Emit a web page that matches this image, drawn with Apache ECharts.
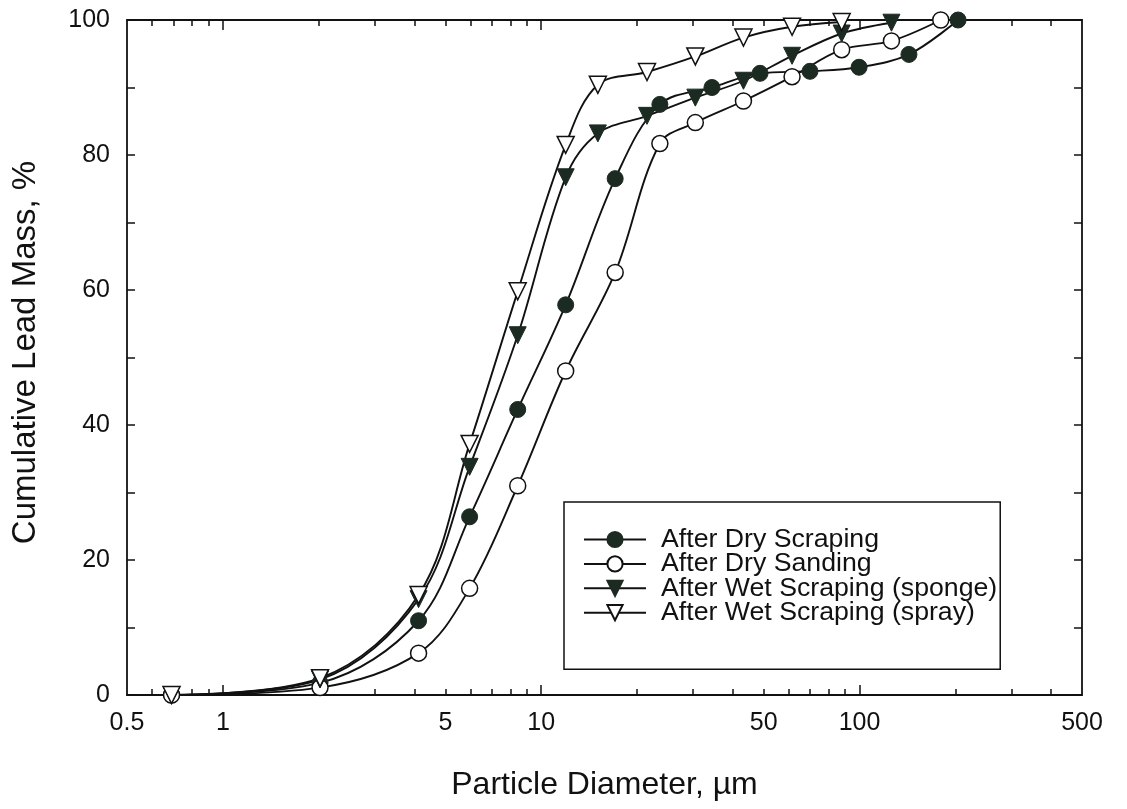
<!DOCTYPE html>
<html><head><meta charset="utf-8">
<script src="https://cdn.jsdelivr.net/npm/echarts@6/dist/echarts.min.js"></script>
<style>html,body{margin:0;padding:0;background:#fff}#c{width:1127px;height:809px}</style>
</head><body><div id="c"></div>
<script>
// ---- data (particle diameter in µm, cumulative lead mass in %) ----
const seriesNames = ['After Dry Scraping', 'After Dry Sanding', 'After Wet Scraping (sponge)', 'After Wet Scraping (spray)'];

const dryScrapingX = [0.69, 2.02, 4.12, 5.96, 8.44, 11.94, 17.08, 23.6, 34.4, 48.7, 69.9, 99.7, 143, 204];
const dryScrapingY = [0, 1.8, 11.0, 26.4, 42.3, 57.8, 76.5, 87.5, 90.0, 92.1, 92.4, 93.0, 94.9, 100];

const drySandingX = [0.69, 2.02, 4.12, 5.96, 8.44, 11.94, 17.08, 23.6, 30.5, 43.2, 61.4, 87.9, 126, 180];
const drySandingY = [0, 1.1, 6.2, 15.8, 31.0, 48.0, 62.6, 81.7, 84.8, 88.0, 91.6, 95.6, 96.9, 100];

const wetSpongeX = [0.69, 2.02, 4.12, 5.96, 8.44, 11.94, 15.07, 21.5, 30.5, 43.2, 61.4, 87.9, 126];
const wetSpongeY = [0, 2.3, 14.2, 33.8, 53.3, 76.7, 83.2, 85.8, 88.5, 91.0, 94.7, 98.0, 99.6];

const wetSprayX = [0.69, 2.02, 4.12, 5.96, 8.44, 11.94, 15.07, 21.5, 30.5, 43.2, 61.4, 87.9];
const wetSprayY = [0, 2.5, 14.8, 37.2, 59.8, 81.5, 90.4, 92.3, 94.6, 97.4, 99.0, 99.7];

// ---- axis ticks ----
const xLabelValues = [0.5, 1, 5, 10, 50, 100, 500];
const xMajorTicks = [1, 10, 100];
const xMinorTicks = [0.6, 0.7, 0.8, 0.9, 2, 3, 4, 5, 6, 7, 8, 9, 20, 30, 40, 50, 60, 70, 80, 90, 200, 300, 400];
const yLabelValues = [0, 20, 40, 60, 80, 100];
const yTickValues = [0, 10, 20, 30, 40, 50, 60, 70, 80, 90, 100];

const FONT = '"Liberation Sans", Arial, Helvetica, sans-serif';
const INK = '#111';
const DARK = '#1c2b22';

function pairs(xs, ys) { return xs.map((x, i) => [x, ys[i]]); }

function xAxisDef(pos, ticks, len, showLabels, showLine) {
  return {
    type: 'log', logBase: 10, min: 0.5, max: 500, position: pos,
    axisLine: { show: showLine, onZero: false, lineStyle: { color: INK, width: 1.8 } },
    axisTick: { show: true, inside: true, length: len, customValues: ticks, lineStyle: { color: INK, width: 1.5 } },
    axisLabel: showLabels ? { show: true, customValues: xLabelValues, margin: 16, color: INK, fontSize: 25, fontFamily: FONT,
      formatter: v => String(v) } : { show: false },
    splitLine: { show: false }, minorTick: { show: false },
    name: showLabels ? 'Particle Diameter, \u00B5m' : '',
    nameLocation: 'middle', nameGap: 74,
    nameTextStyle: { color: INK, fontSize: 32, fontFamily: FONT }
  };
}
function yAxisDef(pos, showLabels) {
  return {
    type: 'value', min: 0, max: 100, position: pos,
    axisLine: { show: true, onZero: false, lineStyle: { color: INK, width: 1.8 } },
    axisTick: { show: true, inside: true, length: 8, customValues: yTickValues, lineStyle: { color: INK, width: 1.5 } },
    axisLabel: showLabels ? { show: true, customValues: yLabelValues, margin: 17, color: INK, fontSize: 25, fontFamily: FONT } : { show: false },
    splitLine: { show: false },
    name: showLabels ? 'Cumulative Lead Mass, %' : '',
    nameLocation: 'middle', nameGap: 85, nameRotate: 90,
    nameTextStyle: { color: INK, fontSize: 33, fontFamily: FONT, padding: [0, 0, 0, 10] }
  };
}

function lineSeries(name, data, symbol, rotate, filled) {
  return {
    name: name, type: 'line', data: data, xAxisIndex: 0, yAxisIndex: 0,
    smooth: 0.35, clip: false,
    symbol: symbol, symbolRotate: rotate, symbolSize: symbol === 'circle' ? 16 : 17,
    showAllSymbol: true,
    lineStyle: { color: INK, width: 1.9 },
    itemStyle: { color: filled ? DARK : '#fff', borderColor: filled ? DARK : INK, borderWidth: filled ? 1 : 1.5, opacity: 1 },
    emphasis: { disabled: true }
  };
}

const chart = echarts.init(document.getElementById('c'), null, { renderer: 'canvas' });
chart.setOption({
  animation: false,
  backgroundColor: '#fff',
  grid: { left: 127, right: 45, top: 20, bottom: 114, containLabel: false },
  xAxis: [
    xAxisDef('bottom', xMinorTicks, 6, true, true),
    xAxisDef('bottom', xMajorTicks, 10, false, false),
    xAxisDef('top', xMinorTicks, 6, false, true),
    xAxisDef('top', xMajorTicks, 10, false, false)
  ],
  yAxis: [ yAxisDef('left', true), yAxisDef('right', false) ],
  legend: {
    orient: 'vertical', left: 564, top: 502,
    padding: [24, 3, 43, 19],
    borderColor: INK, borderWidth: 1.5, backgroundColor: '#fff',
    itemWidth: 62, itemHeight: 19, itemGap: -2.6, itemTextGap: 5,
    textStyle: { color: INK, fontSize: 26.7, fontFamily: FONT, padding: [0, 0, 0, 10] },
    selectedMode: false,
    data: seriesNames
  },
  series: [
    lineSeries(seriesNames[0], pairs(dryScrapingX, dryScrapingY), 'circle', 0, true),
    lineSeries(seriesNames[1], pairs(drySandingX, drySandingY), 'circle', 0, false),
    lineSeries(seriesNames[2], pairs(wetSpongeX, wetSpongeY), 'triangle', 180, true),
    lineSeries(seriesNames[3], pairs(wetSprayX, wetSprayY), 'triangle', 180, false)
  ]
});
</script>
</body></html>
